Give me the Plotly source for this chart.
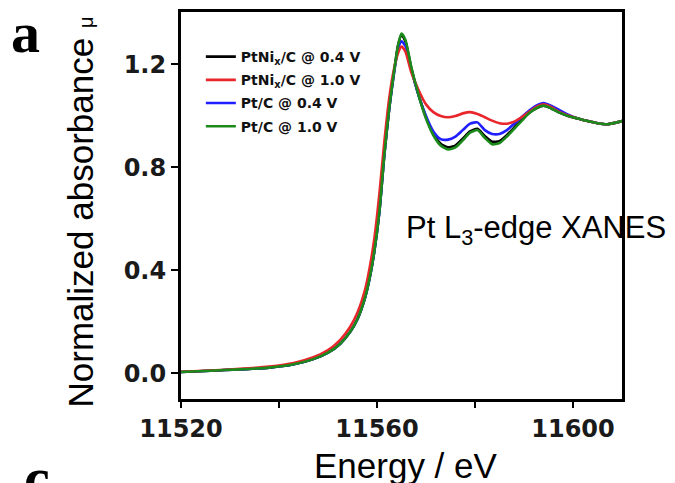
import plotly.graph_objects as go

# Photon energy grid (eV)
energy = [11520, 11526, 11532, 11538, 11543, 11547, 11550, 11552.5, 11554.5, 11556,
          11557.5, 11558.5, 11559.5, 11560.5, 11561.5, 11562.5, 11563.5, 11564.3, 11565, 11565.8,
          11567, 11568.5, 11570, 11571.5, 11573, 11574.5, 11576, 11577.5, 11579, 11580.5,
          11582, 11583.5, 11585, 11586.5, 11588, 11589.5, 11591, 11592.5, 11594, 11595.5,
          11597, 11599, 11601, 11603, 11605, 11607, 11609, 11610]

# Normalized absorbance for each sample / potential
ptnix_04 = [0.005, 0.010, 0.015, 0.022, 0.035, 0.055, 0.080, 0.115, 0.160, 0.210,
            0.290, 0.370, 0.480, 0.630, 0.850, 1.030, 1.175, 1.275, 1.315, 1.290,
            1.185, 1.080, 0.995, 0.930, 0.892, 0.878, 0.885, 0.912, 0.940, 0.950,
            0.922, 0.900, 0.902, 0.925, 0.955, 0.985, 1.012, 1.030, 1.040, 1.030,
            1.015, 1.000, 0.990, 0.980, 0.972, 0.968, 0.975, 0.980]
ptnix_10 = [0.006, 0.011, 0.017, 0.026, 0.040, 0.062, 0.090, 0.130, 0.180, 0.235,
            0.320, 0.410, 0.530, 0.700, 0.900, 1.070, 1.185, 1.245, 1.270, 1.250,
            1.170, 1.100, 1.045, 1.015, 1.000, 0.995, 1.000, 1.010, 1.015, 1.008,
            0.995, 0.982, 0.972, 0.970, 0.978, 0.995, 1.015, 1.035, 1.045, 1.035,
            1.018, 1.002, 0.990, 0.980, 0.972, 0.968, 0.975, 0.980]
ptc_04 = [0.005, 0.010, 0.015, 0.022, 0.035, 0.055, 0.080, 0.115, 0.160, 0.210,
          0.290, 0.370, 0.480, 0.630, 0.850, 1.030, 1.170, 1.260, 1.290, 1.272,
          1.180, 1.080, 1.000, 0.940, 0.910, 0.908, 0.920, 0.945, 0.970, 0.975,
          0.945, 0.930, 0.930, 0.945, 0.970, 0.995, 1.020, 1.040, 1.050, 1.040,
          1.025, 1.005, 0.990, 0.980, 0.972, 0.968, 0.975, 0.980]
ptc_10 = [0.005, 0.010, 0.015, 0.022, 0.035, 0.055, 0.080, 0.115, 0.160, 0.210,
          0.290, 0.370, 0.480, 0.630, 0.850, 1.030, 1.175, 1.275, 1.320, 1.295,
          1.190, 1.080, 0.990, 0.925, 0.885, 0.870, 0.878, 0.905, 0.935, 0.945,
          0.915, 0.890, 0.895, 0.920, 0.950, 0.980, 1.010, 1.030, 1.040, 1.030,
          1.015, 1.000, 0.990, 0.980, 0.972, 0.968, 0.975, 0.980]

series = [
    ("PtNi<sub>x</sub>/C @ 0.4 V", ptnix_04, "#000000", 1),
    ("Pt/C @ 0.4 V", ptc_04, "#1f1fff", 3),
    ("PtNi<sub>x</sub>/C @ 1.0 V", ptnix_10, "#e8262b", 2),
    ("Pt/C @ 1.0 V", ptc_10, "#1b8a1b", 4),
]

x_ticks = [11520, 11560, 11600]
y_ticks = [0.0, 0.4, 0.8, 1.2]

fig = go.Figure()
for name, vals, color, rank in series:
    fig.add_trace(go.Scatter(
        x=energy, y=vals, mode="lines", name=name,
        line=dict(color=color, width=2.6, shape="spline", smoothing=0.6),
        legendgroup=name, legendrank=rank,
    ))

tick_font = dict(family="DejaVu Sans", size=24, color="#1a1a1a", weight="bold")

fig.update_layout(
    width=675, height=483, autosize=False,
    margin=dict(l=181, r=53, t=9, b=84, pad=0),
    paper_bgcolor="white", plot_bgcolor="white",
    showlegend=True,
    legend=dict(
        x=0.045, y=0.925, xanchor="left", yanchor="top",
        bgcolor="rgba(0,0,0,0)", borderwidth=0,
        font=dict(family="DejaVu Sans", size=14, color="#111111", weight="bold"),
        traceorder="grouped", tracegroupgap=2, itemwidth=30,
    ),
    xaxis=dict(
        range=[11520, 11610], tickmode="array", tickvals=x_ticks,
        ticktext=[str(v) for v in x_ticks],
        showline=True, linecolor="black", linewidth=3, mirror=True,
        ticks="outside", ticklen=6, tickwidth=2, tickcolor="black",
        tickfont=tick_font, showgrid=False, zeroline=False,
        minor=dict(tickvals=[11540, 11580], ticks="outside", ticklen=6,
                   tickwidth=2, tickcolor="black"),
    ),
    yaxis=dict(
        range=[-0.1, 1.404], tickmode="array", tickvals=y_ticks,
        ticktext=[f"{v:.1f}" for v in y_ticks],
        showline=True, linecolor="black", linewidth=3, mirror=True,
        ticks="outside", ticklen=7, tickwidth=2, tickcolor="black",
        tickfont=tick_font, showgrid=False, zeroline=False,
    ),
)

def px(xp):
    return (xp - 181) / 441

def py(yp):
    return (399 - yp) / 390

annotations = [
    dict(text="Energy / eV", x=px(406), y=py(466), xanchor="center", yanchor="middle",
         font=dict(family="Liberation Sans", size=35, color="black")),
    dict(text="Normalized absorbance <span style='font-size:20px'>μ</span>",
         x=px(80), y=py(211), xanchor="center", yanchor="middle", textangle=-90,
         font=dict(family="Liberation Sans", size=35, color="black")),
    dict(text="<b>a</b>", x=px(25), y=py(30), xanchor="center", yanchor="middle",
         font=dict(family="Liberation Serif", size=58, color="black")),
    dict(text="<b>c</b>", x=px(37), y=py(478), xanchor="center", yanchor="middle",
         font=dict(family="Liberation Serif", size=58, color="black")),
]
for a in annotations:
    fig.add_annotation(xref="paper", yref="paper", showarrow=False, **a)

fig.add_annotation(
    text="Pt L<sub>3</sub>-edge XANES", x=11565.6, y=0.555, xref="x", yref="y",
    xanchor="left", yanchor="middle", showarrow=False,
    font=dict(family="Liberation Sans", size=31, color="black"),
)

fig.write_html("out.html")
